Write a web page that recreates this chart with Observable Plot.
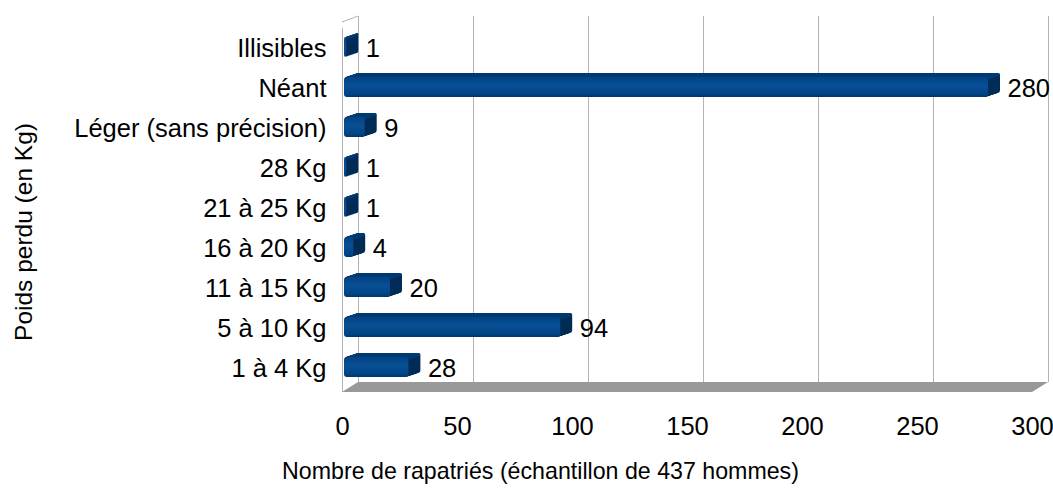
<!DOCTYPE html>
<html>
<head>
<meta charset="utf-8">
<script src="https://cdn.jsdelivr.net/npm/d3@7"></script>
<script src="https://cdn.jsdelivr.net/npm/@observablehq/plot@0.6"></script>
<style>
  html, body { margin: 0; padding: 0; background: #fff; }
  svg { display: block; }
</style>
</head>
<body>
<div id="chart"></div>
<script>
// ---- data ----
const categories = ["Illisibles", "Néant", "Léger (sans précision)", "28 Kg", "21 à 25 Kg", "16 à 20 Kg", "11 à 15 Kg", "5 à 10 Kg", "1 à 4 Kg"];
const counts = [1, 280, 9, 1, 1, 4, 20, 94, 28];
const xTicks = [0, 50, 100, 150, 200, 250, 300];
const xTitle = "Nombre de rapatriés (échantillon de 437 hommes)";
const yTitle = "Poids perdu (en Kg)";

const data = categories.map((c, i) => ({cat: c, value: counts[i]}));

// ---- styles ----
const font = "'Liberation Sans', Arial, sans-serif";
const sideColor = "#002c57";
const topColor = "#003a72";
const gridColor = "#b3b3b3";
const DEPTH = 12;      // bar depth in px (x)
const WALL = 16;       // wall depth in px (x)

const svgNS = "http://www.w3.org/2000/svg";
function el(name, attrs) {
  const e = document.createElementNS(svgNS, name);
  for (const k in attrs) e.setAttribute(k, attrs[k]);
  return e;
}

// gradient definitions
function defsMark() {
  const g = el("g", {});
  const defs = el("defs", {});
  const lg = el("linearGradient", {id: "frontGrad", x1: 0, y1: 0, x2: 0, y2: 1});
  [["0%", "#004386"], ["45%", "#0a4f94"], ["85%", "#004485"], ["100%", "#003569"]].forEach(([o, c]) => {
    lg.appendChild(el("stop", {offset: o, "stop-color": c}));
  });
  defs.appendChild(lg);
  g.appendChild(defs);
  return g;
}

// floor + left wall top edge, built from the plot's scales
function wallsMark(index, scales, values, dims) {
  const x = scales.x;
  const x0 = x(0), x1 = x(300);
  const yb = dims.height - dims.marginBottom;
  const yt = dims.marginTop;
  const g = el("g", {});
  g.appendChild(el("polygon", {
    points: `${x0},${yb + 4} ${x1},${yb + 4} ${x1 + WALL},${yb - 6} ${x0 + WALL},${yb - 6}`,
    fill: "#999999"
  }));
  g.appendChild(el("line", {x1: x0, y1: yt - 3, x2: x0 + WALL, y2: yt - 9, stroke: gridColor, "stroke-width": 1}));
  return g;
}

const marks = [defsMark];

// back wall gridlines (offset into depth)
marks.push(Plot.ruleX(xTicks, {stroke: gridColor, strokeWidth: 1, dx: WALL, dy: -8, insetTop: -1, insetBottom: -2}));
// left wall front edge
marks.push(Plot.ruleX([0], {stroke: gridColor, strokeWidth: 1, insetTop: 3, insetBottom: -4}));
marks.push(wallsMark);

// 3D extrusion: side layers
for (let i = DEPTH; i >= 1; i--) {
  marks.push(Plot.barX(data, {x: "value", y: "cat", fill: sideColor, dx: 2 + i, dy: -i / 3, rx: 3}));
}
// top face strips
for (let i = DEPTH; i >= 1; i--) {
  marks.push(Plot.barX(data, {x: "value", y: "cat", fill: topColor, dx: 2 + i, dy: -i / 3, insetBottom: 17, rx: 2}));
}
// front face
marks.push(Plot.barX(data, {x: "value", y: "cat", fill: "url(#frontGrad)", dx: 2, rx: 3}));

// value labels
marks.push(Plot.text(data, {x: "value", y: "cat", text: d => String(d.value), dx: 21, dy: 1, textAnchor: "start", fontSize: 25.5, fill: "#000"}));

// axes
marks.push(Plot.axisY({tickSize: 0, tickPadding: 16, fontSize: 25.5, label: null, dy: 1}));
marks.push(Plot.axisX({ticks: xTicks, tickSize: 0, tickPadding: 28, fontSize: 25.5, label: null, tickFormat: d => String(d)}));

// titles
marks.push(Plot.text([xTitle], {frameAnchor: "bottom", dx: -147, dy: 83, lineAnchor: "middle", textAnchor: "middle", fontSize: 23.2, fill: "#000"}));
marks.push(Plot.text([yTitle], {frameAnchor: "left", dx: -318, dy: 25, rotate: -90, lineAnchor: "middle", textAnchor: "middle", fontSize: 24.5, fill: "#000"}));

const chart = Plot.plot({
  width: 1053,
  height: 489,
  marginLeft: 342,
  marginRight: 21,
  marginTop: 25,
  marginBottom: 101,
  style: {fontFamily: font, background: "#fff", color: "#000", overflow: "visible"},
  x: {domain: [0, 300], axis: null},
  y: {domain: categories, paddingInner: 0.5, paddingOuter: 0.25, axis: null},
  marks
});
document.getElementById("chart").appendChild(chart);
</script>
</body>
</html>
